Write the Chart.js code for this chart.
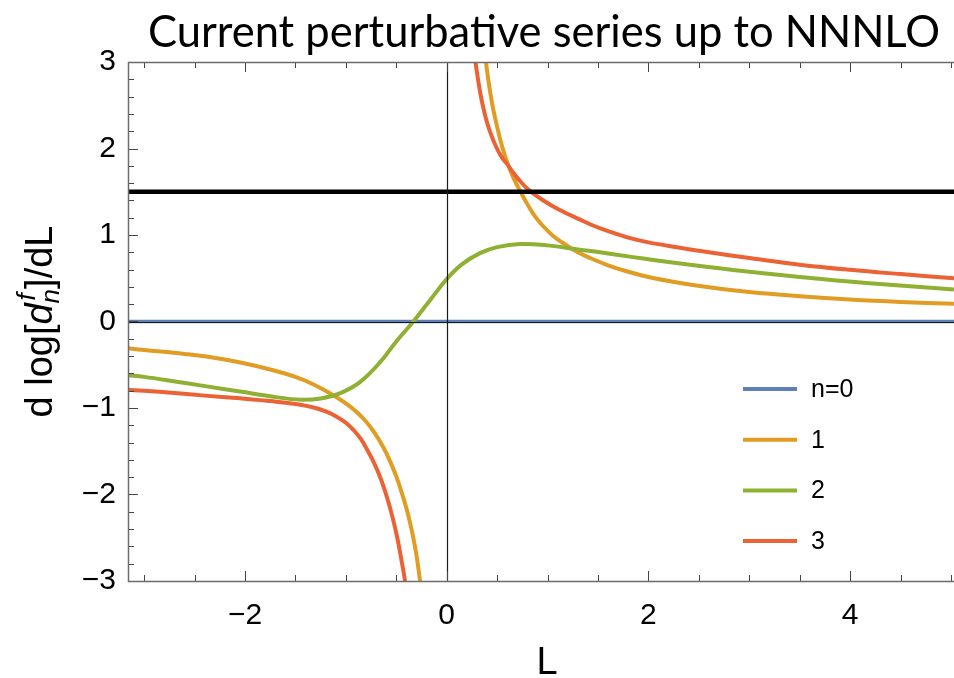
<!DOCTYPE html>
<html>
<head>
<meta charset="utf-8">
<title>Current perturbative series up to NNNLO</title>
<script src="https://cdn.jsdelivr.net/npm/chart.js@4.4.1/dist/chart.umd.min.js"></script>
<style>
  html, body { margin: 0; padding: 0; background: #fff; }
  canvas { display: block; }
</style>
</head>
<body>
<canvas id="seriesChart" width="954" height="678"></canvas>
<script>
// d log[d_n^f]/dL against L for each perturbative order.
// a null value splits a curve into its two branches around the pole
const seriesLabels = ['n=0', '1', '2', '3'];
const seriesColors = ['#5E81B5', '#E19C24', '#8FB032', '#EB6235'];

const lN0 = [-3.16, 5.03];
const valN0 = [0, 0];

const lN1 = [-3.16, -3.0, -2.6, -2.2, -1.8, -1.5, -1.3, -1.1, -0.95, -0.82, -0.72, -0.63, -0.56, -0.5, -0.44, -0.39, -0.34, -0.3, -0.264, -0.24,
  0.05, 0.37, 0.40, 0.43, 0.46, 0.50, 0.55, 0.60, 0.65, 0.70, 0.75, 0.80, 0.87, 0.95, 1.05, 1.15, 1.3, 1.45, 1.6, 1.8, 2.0, 2.3, 2.6, 3.0, 3.5, 4.0, 4.5, 5.03];
const valN1 = [-0.31, -0.33, -0.375, -0.44, -0.54, -0.64, -0.74, -0.87, -0.99, -1.13, -1.28, -1.45, -1.62, -1.79, -2.0, -2.2, -2.45, -2.7, -3.0, -3.2,
  null, 3.2, 2.9, 2.66, 2.46, 2.25, 2.02, 1.84, 1.69, 1.57, 1.46, 1.355, 1.225, 1.11, 0.995, 0.91, 0.80, 0.72, 0.65, 0.575, 0.515, 0.448, 0.395, 0.34, 0.292, 0.254, 0.226, 0.205];

const lN2 = [-3.16, -3.0, -2.71, -2.38, -2.05, -1.72, -1.45, -1.25, -1.06, -0.86, -0.66, -0.5, -0.33, -0.15,
  0, 0.15, 0.33, 0.5, 0.73, 1.0, 1.32, 1.52, 1.815, 2.18, 2.84, 3.5, 4.16, 5.03];
const valN2 = [-0.62, -0.64, -0.69, -0.75, -0.81, -0.87, -0.904, -0.89, -0.83, -0.70, -0.47, -0.23, 0.0, 0.27,
  0.49, 0.66, 0.79, 0.86, 0.896, 0.88, 0.83, 0.80, 0.75, 0.69, 0.595, 0.515, 0.445, 0.37];

const lN3 = [-3.16, -3.0, -2.7, -2.4, -2.05, -1.72, -1.45, -1.3, -1.2, -1.1, -1.0, -0.92, -0.85, -0.78, -0.71, -0.65, -0.59, -0.54, -0.49, -0.45, -0.413, -0.385,
  0.1, 0.265, 0.28, 0.30, 0.33, 0.363, 0.40, 0.44, 0.49, 0.545, 0.60, 0.66, 0.73, 0.80, 0.88, 0.97, 1.07, 1.18, 1.3, 1.45, 1.6, 1.8, 2.0, 2.3, 2.6, 3.0, 3.5, 4.0, 4.5, 5.03];
const valN3 = [-0.79, -0.80, -0.826, -0.857, -0.888, -0.923, -0.962, -1.0, -1.04, -1.095, -1.17, -1.26, -1.36, -1.50, -1.66, -1.83, -2.04, -2.25, -2.5, -2.75, -3.0, -3.25,
  null, 3.2, 3.05, 2.88, 2.66, 2.47, 2.30, 2.16, 2.02, 1.90, 1.82, 1.72, 1.62, 1.535, 1.46, 1.39, 1.32, 1.255, 1.19, 1.11, 1.045, 0.97, 0.915, 0.855, 0.80, 0.735, 0.657, 0.597, 0.548, 0.50];

// horizontal reference level
const lRef = [-3.16, 5.03];
const valRef = [1.5, 1.5];

// tick labels and tick mark spacing
const xLabelValues = [-2, 0, 2, 4];
const yLabelValues = [-3, -2, -1, 0, 1, 2, 3];
const xMinorStep = 0.5;
const yMinorStep = 0.2;

const titleText = 'Current perturbative series up to NNNLO';
const xTitle = 'L';

const toPoints = (ls, vals) => ls.map((l, i) => ({ x: l, y: vals[i] }));
const fmt = (v) => (v < 0 ? '\u2212' + Math.abs(v) : String(v));

const lineDataset = (label, ls, vals, color, width, order) => ({
  label: label,
  data: toPoints(ls, vals),
  borderColor: color,
  backgroundColor: color,
  borderWidth: width,
  pointRadius: 0,
  tension: 0.4,
  capBezierPoints: false,
  spanGaps: false,
  order: order
});

//frame, inward ticks and the axes through the origin
const frameTicks = {
  id: 'frameTicks',
  afterDatasetsDraw(chart) {
    const { ctx, chartArea: a, scales: { x, y } } = chart;
    ctx.save();
    ctx.strokeStyle = '#1a1a1a';
    ctx.lineWidth = 1.2;
    ctx.beginPath();
    const x0 = Math.round(x.getPixelForValue(0)) + 0.5;
    const y0 = Math.round(y.getPixelForValue(0)) + 0.5;
    ctx.moveTo(x0, a.top);
    ctx.lineTo(x0, a.bottom);
    ctx.moveTo(a.left, y0);
    ctx.lineTo(a.right, y0);
    ctx.stroke();
    ctx.restore();
  },
  afterDraw(chart) {
    const { ctx, chartArea: a, scales: { x, y } } = chart;
    ctx.save();
    ctx.strokeStyle = '#444';
    ctx.lineWidth = 1;
    ctx.beginPath();
    for (let v = -3; v <= 5.001; v += xMinorStep) {
      const px = Math.round(x.getPixelForValue(v)) + 0.5;
      const len = xLabelValues.some((m) => Math.abs(m - v) < 1e-6) ? 10 : 6;
      ctx.moveTo(px, a.bottom);
      ctx.lineTo(px, a.bottom - len);
      ctx.moveTo(px, a.top);
      ctx.lineTo(px, a.top + len);
    }
    for (let v = -3; v <= 3.001; v += yMinorStep) {
      const py = Math.round(y.getPixelForValue(v)) + 0.5;
      const len = yLabelValues.some((m) => Math.abs(m - v) < 1e-6) ? 10 : 6;
      ctx.moveTo(a.left, py);
      ctx.lineTo(a.left + len, py);
    }
    ctx.stroke();

    ctx.strokeStyle = '#6b6b6b';
    ctx.lineWidth = 1.5;
    ctx.beginPath();
    ctx.moveTo(a.right, a.top + 0.5);
    ctx.lineTo(a.left + 0.5, a.top + 0.5);
    ctx.lineTo(a.left + 0.5, a.bottom + 0.5);
    ctx.lineTo(a.right, a.bottom + 0.5);
    ctx.stroke();
    ctx.restore();
  }
};

//title, axis titles and legend
const labels = {
  id: 'labels',
  afterDraw(chart) {
    const { ctx, chartArea: a } = chart;
    const cx = (a.left + a.right) / 2;
    const cy = (a.top + a.bottom) / 2;
    ctx.save();
    ctx.fillStyle = '#000';
    ctx.textAlign = 'center';
    ctx.textBaseline = 'alphabetic';
    ctx.font = '43.5px Lato';
    ctx.fillText(titleText, cx + 3, 47);

    ctx.font = '38px "Liberation Sans"';
    ctx.fillText(xTitle, cx + 6, 674);

    // rotated y title with the sub/superscripted d
    const big = 38, small = 26;
    const parts = [
      { t: 'd log[', f: big + 'px "Liberation Sans"', dy: 0 },
      { t: 'd', f: 'italic ' + big + 'px "Liberation Sans"', dy: 0 },
      { t: 'f', f: 'italic ' + small + 'px "Liberation Sans"', dy: -17, stack: true },
      { t: 'n', f: 'italic ' + small + 'px "Liberation Sans"', dy: 7 },
      { t: ']/dL', f: big + 'px "Liberation Sans"', dy: 0 }
    ];
    let total = 0;
    parts.forEach((p) => {
      ctx.font = p.f;
      p.w = ctx.measureText(p.t).width;
      if (!p.stack) total += p.w;
    });
    ctx.translate(52, cy);
    ctx.rotate(-Math.PI / 2);
    ctx.textAlign = 'left';
    let pos = -total / 2;
    parts.forEach((p) => {
      ctx.font = p.f;
      ctx.fillText(p.t, pos + (p.stack ? 3 : 0), p.dy);
      if (!p.stack) pos += p.w;
    });
    ctx.restore();

    // legend
    ctx.save();
    ctx.font = '25px "Liberation Sans"';
    ctx.textBaseline = 'middle';
    ctx.fillStyle = '#000';
    seriesLabels.forEach((lab, i) => {
      const ly = 389 + i * 50.7;
      ctx.strokeStyle = seriesColors[i];
      ctx.lineWidth = 4;
      ctx.beginPath();
      ctx.moveTo(743, ly);
      ctx.lineTo(797, ly);
      ctx.stroke();
      ctx.fillText(lab, 811, ly + 1);
    });
    ctx.restore();
  }
};

Chart.defaults.font.family = '"Liberation Sans", Arial, sans-serif';
Chart.defaults.color = '#000';

new Chart(document.getElementById('seriesChart'), {
  type: 'line',
  data: {
    datasets: [
      lineDataset('reference', lRef, valRef, '#000', 4.5, 0),
      lineDataset(seriesLabels[3], lN3, valN3, seriesColors[3], 4, 1),
      lineDataset(seriesLabels[2], lN2, valN2, seriesColors[2], 4, 2),
      lineDataset(seriesLabels[1], lN1, valN1, seriesColors[1], 4, 3),
      lineDataset(seriesLabels[0], lN0, valN0, seriesColors[0], 3.5, 4)
    ]
  },
  options: {
    responsive: false,
    animation: false,
    events: [],
    layout: { padding: { top: 62, right: 0, bottom: 0, left: 0 } },
    plugins: { legend: { display: false }, tooltip: { enabled: false }, title: { display: false } },
    scales: {
      x: {
        type: 'linear',
        min: -3.16,
        max: 5.03,
        grid: { display: false },
        border: { display: false },
        afterBuildTicks: (scale) => { scale.ticks = xLabelValues.map((v) => ({ value: v })); },
        afterFit: (scale) => { scale.height = 97; },
        ticks: { font: { size: 30 }, padding: 9, maxRotation: 0, autoSkip: false, callback: (v) => fmt(v) }
      },
      y: {
        type: 'linear',
        min: -3,
        max: 3,
        grid: { display: false },
        border: { display: false },
        afterBuildTicks: (scale) => { scale.ticks = yLabelValues.map((v) => ({ value: v })); },
        afterFit: (scale) => { scale.width = 128; },
        ticks: { font: { size: 30 }, padding: 4, autoSkip: false, callback: (v) => fmt(v) }
      }
    }
  },
  plugins: [frameTicks, labels]
});
</script>
</body>
</html>
